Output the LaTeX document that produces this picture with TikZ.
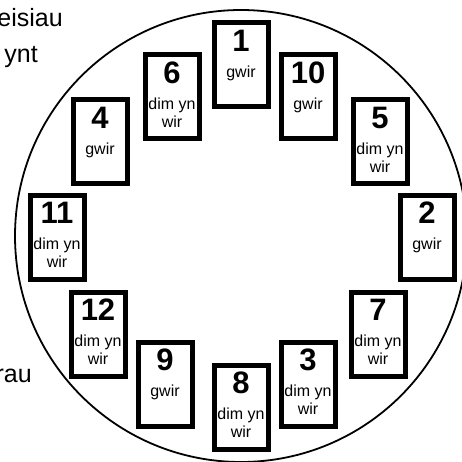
\documentclass[tikz,border=0pt]{standalone}
\usepackage{fontspec}
\setmainfont{Liberation Sans}
\usetikzlibrary{positioning}

\tikzset{
  carta/.style={draw, line width=5pt, minimum width=54pt, minimum height=84pt, inner sep=0pt},
  testocarta/.style={align=center, inner sep=0pt, font=\fontsize{16}{18}\selectfont},
  nota/.style={anchor=base east, inner sep=0pt, font=\fontsize{25}{30}\selectfont},
}

\begin{document}
\begin{tikzpicture}[x=1pt, y=-1pt]
  \useasboundingbox (0,0) rectangle (462,462);
  \clip (0,0) rectangle (462,462);
  % testo a sinistra, tagliato dal bordo
  \node[nota] (n1) at (63,27) {eisiau};
  \node[nota] (n2) at (38,63) {ynt};
  \node[nota] (n3) at (32,382) {rau};
  % cerchio
  \draw[line width=1.8pt] (241,236) circle[radius=226pt];
  % carte: numero / x / y / testo
  \foreach \n/\x/\y/\t in {1/241/65/gwir, 10/308/97/gwir, 6/172/97/{dim yn\\wir},
      4/100/142/gwir, 5/380/142/{dim yn\\wir}, 11/57/237/{dim yn\\wir}, 2/427/237/gwir,
      12/98/334/{dim yn\\wir}, 7/378/334/{dim yn\\wir}, 9/165/384/gwir,
      3/308/384/{dim yn\\wir}, 8/241/407/{dim yn\\wir}}{
    \node[carta] (c\n) at (\x,\y) {};
    \node[testocarta, anchor=north] (t\n) at ([yshift=-9.5pt]c\n.north)
      {{\fontsize{31}{31}\selectfont\bfseries \n}\\[8pt]\t};
  }
\end{tikzpicture}
\end{document}
